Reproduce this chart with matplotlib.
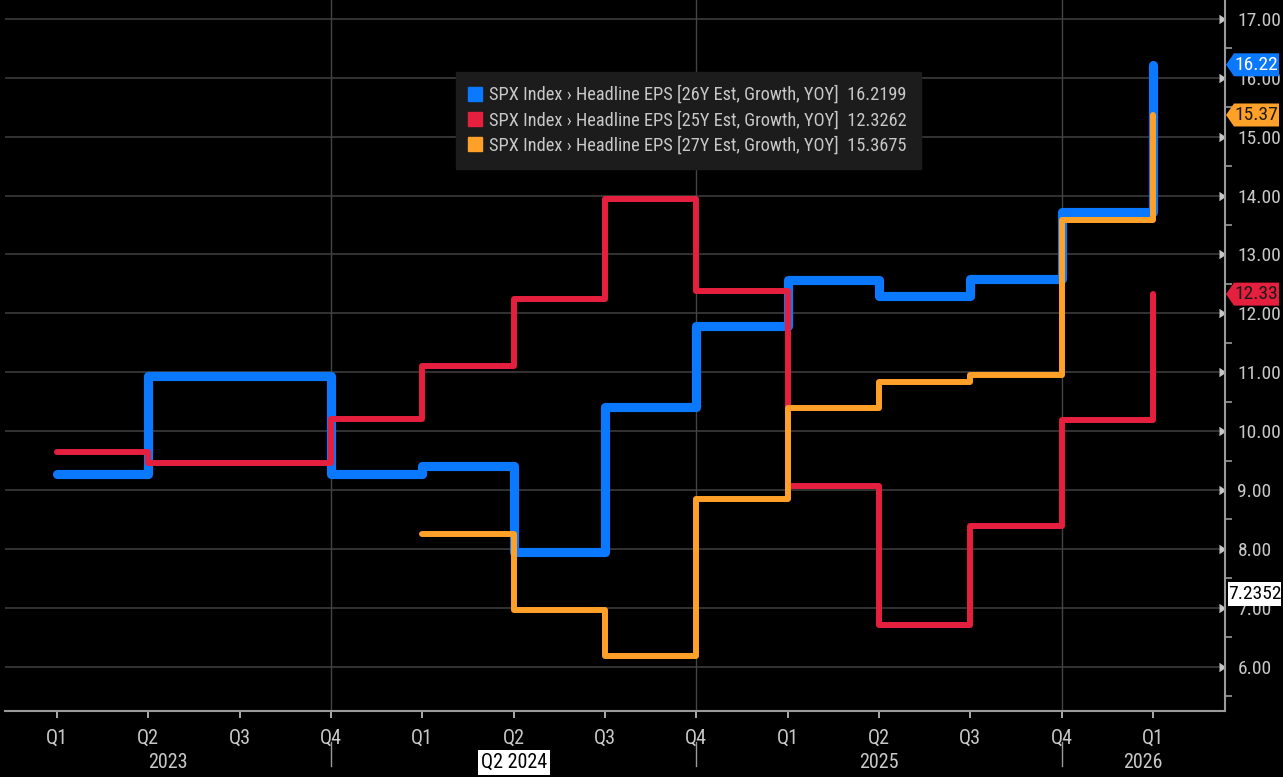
import numpy as np
import matplotlib
matplotlib.use("Agg")
import matplotlib.pyplot as plt
from matplotlib.lines import Line2D
from matplotlib.patches import Polygon, Rectangle
from matplotlib.transforms import IdentityTransform, blended_transform_factory

plt.rcParams['font.family'] = ['Roboto Condensed', 'DejaVu Sans']

# quarterly steps, Q1 2023 .. Q1 2026
quarters = ['Q1', 'Q2', 'Q3', 'Q4', 'Q1', 'Q2', 'Q3', 'Q4', 'Q1', 'Q2', 'Q3', 'Q4', 'Q1']
years = ['2023', '2024', '2025', '2026']
eps_26y = [9.27, 10.94, 10.94, 9.27, 9.40, 7.95, 10.41, 11.79, 12.56, 12.29, 12.58, 13.72, 16.2199]
eps_25y = [9.65, 9.46, 9.46, 10.21, 11.11, 12.24, 13.94, 12.38, 9.06, 6.70, 8.39, 10.19, 12.3262]
eps_27y = [np.nan, np.nan, np.nan, np.nan, 8.26, 6.97, 6.18, 8.84, 10.40, 10.84, 10.95, 13.58, 15.3675]
hover_value = 7.2352
hover_label = 'Q2 2024'

series = [
    ('26Y', eps_26y, '#0a78ff', 6.6),
    ('25Y', eps_25y, '#e51f3e', 4.3),
    ('27Y', eps_27y, '#ffa028', 4.3),
]

fig = plt.figure(figsize=(12.83, 7.77), dpi=100)
fig.patch.set_facecolor('black')
ax = fig.add_axes([5 / 1283, 1 - 711 / 777, 1220 / 1283, 711 / 777])
ax.set_facecolor('black')

x = np.arange(len(quarters))
for name, vals, col, lw in series:
    ax.plot(x, vals, drawstyle='steps-post', color=col, lw=lw,
            solid_capstyle='round', solid_joinstyle='round', zorder=3)

ax.set_xlim(-0.569, 12.79)
ax.set_ylim(5.248, 17.32)

# grid
for v in range(6, 18):
    ax.axhline(v, color='#3c3c3c', lw=1.2, zorder=1)
for q in [3, 7, 11]:
    ax.axvline(q, color='#444444', lw=1, zorder=1)

# spines
for s in ['top', 'left']:
    ax.spines[s].set_visible(False)
for s in ['bottom', 'right']:
    ax.spines[s].set_color('#9a9a9a')
    ax.spines[s].set_linewidth(1.5)

# y axis on the right
ax.yaxis.tick_right()
ax.set_yticks(range(6, 18))
ax.set_yticklabels(['%.2f' % v for v in range(6, 18)])
ax.set_yticks(np.arange(5.5, 17.0, 1.0), minor=True)
ax.tick_params(axis='y', which='major', colors='#c8c8c8', labelsize=14, length=0, pad=9)
ax.tick_params(axis='y', which='minor', colors='#9a9a9a', length=5, width=1.2)
for t in ax.yaxis.get_major_ticks():
    t.tick2line.set_marker(5)
    t.tick2line.set_markersize(6)
    t.tick2line.set_color('#c8c8c8')

# x axis
ax.set_xticks(x)
ax.set_xticklabels(quarters)
ax.tick_params(axis='x', colors='#c8c8c8', labelsize=14.5, length=5, width=1.2, pad=8)
for t in ax.xaxis.get_major_ticks():
    t.tick1line.set_color('#9a9a9a')

# year labels centred in each visible year span, separators at Q4
trans = blended_transform_factory(ax.transData, ax.transAxes)
bounds = [ax.get_xlim()[0], 3, 7, 11, ax.get_xlim()[1]]
for i, yr in enumerate(years):
    mid = (bounds[i] + bounds[i + 1]) / 2
    if yr == hover_label.split()[1]:
        continue
    ax.text(mid, -0.072, yr, transform=trans, ha='center', va='center',
            color='#c8c8c8', fontsize=14.5, clip_on=False)
for q in [3, 7, 11]:
    ax.plot([q, q], [-0.043, -0.078], transform=trans, color='#9a9a9a', lw=1, clip_on=False)

# hover label at Q2 2024
ax.text(5, -0.072, hover_label, transform=trans, ha='center', va='center',
        color='black', fontsize=14.5, clip_on=False,
        bbox=dict(boxstyle='square,pad=0.15', fc='white', ec='none'))

# legend
handles = [Line2D([], [], marker='s', ls='', color=c, markersize=10) for _, _, c, _ in series]
labels = ['SPX Index \u203a Headline EPS [%s Est, Growth, YOY]  %.4f' % (n, v[-1]) for n, v, _, _ in series]
leg = fig.legend(handles, labels, loc='upper left', bbox_to_anchor=(456 / 1283, 1 - 72 / 777),
                 frameon=True, fancybox=False, facecolor='#1c1c1c', edgecolor='#1c1c1c',
                 framealpha=1, fontsize=13.2, handlelength=0.6, handletextpad=0.45,
                 labelspacing=0.38, borderpad=0.75, borderaxespad=0)
for t in leg.get_texts():
    t.set_color('#c8c8c8')

# value tags on the right axis
x0 = ax.transAxes.transform((1, 0))[0]


def tag(val, text, fc, tc):
    py = ax.transData.transform((0, val))[1]
    h = 11.5
    pts = [(x0 + 1, py), (x0 + 9, py + h), (x0 + 54, py + h), (x0 + 54, py - h), (x0 + 9, py - h)]
    fig.add_artist(Polygon(pts, closed=True, fc=fc, ec='none', transform=IdentityTransform(), zorder=5))
    fig.text(x0 + 31, py, text, transform=IdentityTransform(), ha='center', va='center',
             color=tc, fontsize=14, zorder=6)


tag(eps_26y[-1], '%.2f' % eps_26y[-1], series[0][2], 'white')
tag(eps_27y[-1], '%.2f' % eps_27y[-1], series[2][2], '#1a1a1a')
tag(eps_25y[-1], '%.2f' % eps_25y[-1], series[1][2], '#1a1a1a')

py = ax.transData.transform((0, hover_value))[1]
fig.add_artist(Rectangle((x0 + 3, py - 12), 53, 24, fc='white', ec='none',
                         transform=IdentityTransform(), zorder=5))
fig.text(x0 + 29.5, py, '%.4f' % hover_value, transform=IdentityTransform(), ha='center',
         va='center', color='black', fontsize=14, zorder=6)

fig.savefig('out.png', dpi=100, facecolor='black')
